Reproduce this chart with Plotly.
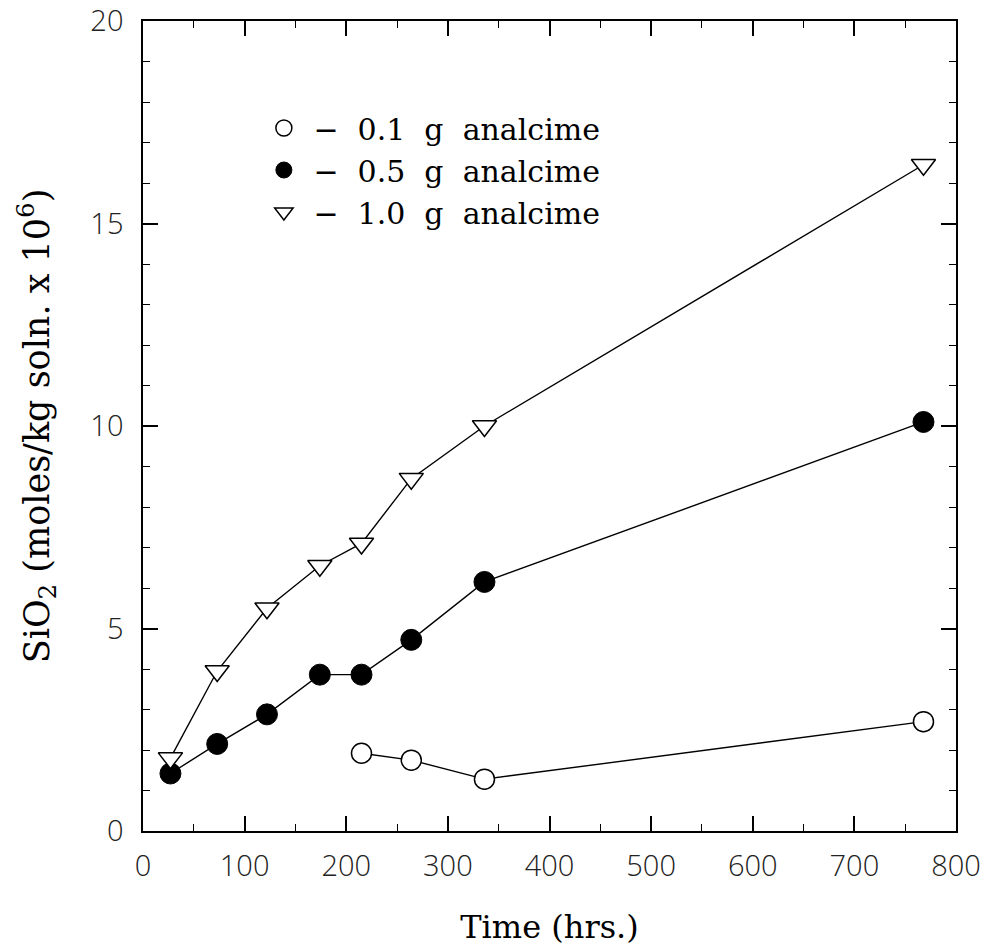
import plotly.graph_objects as go

# Data
time_01 = [215, 264, 336, 768]
sio2_01 = [1.92, 1.75, 1.28, 2.70]

time_05 = [27, 73, 122, 174, 215, 264, 336, 768]
sio2_05 = [1.42, 2.15, 2.88, 3.86, 3.86, 4.72, 6.15, 10.10]

time_10 = [27, 73, 122, 174, 215, 264, 336, 768]
sio2_10 = [1.80, 3.95, 5.50, 6.55, 7.10, 8.70, 10.00, 16.45]

labels = ["\u2212  0.1  g  analcime", "\u2212  0.5  g  analcime", "\u2212  1.0  g  analcime"]

serif = "DejaVu Serif"
sans = "Open Sans"

fig = go.Figure()

series = [
    (time_01, sio2_01, dict(symbol="circle", size=20, color="white", line=dict(color="black", width=1.5))),
    (time_05, sio2_05, dict(symbol="circle", size=21, color="black", line=dict(color="black", width=1))),
    (time_10, sio2_10, dict(symbol="triangle-down", size=21, color="white", line=dict(color="black", width=1.5))),
]

for (xs, ys, mk), name in zip(series, labels):
    fig.add_trace(go.Scatter(x=xs, y=ys, mode="lines+markers", marker=mk,
                             line=dict(color="black", width=1.4), showlegend=False,
                             cliponaxis=False))
for (xs, ys, mk), name in zip(series, labels):
    fig.add_trace(go.Scatter(x=[None], y=[None], mode="markers", marker=mk, name=name,
                             showlegend=True))

axis_common = dict(
    showline=True, linecolor="black", linewidth=1.5, mirror="allticks",
    ticks="inside", ticklen=15, tickwidth=1.5, tickcolor="black",
    showgrid=False, zeroline=False, automargin=False,
    tickfont=dict(family=sans, size=29, color="#222", weight=300),
)

fig.update_xaxes(range=[0, 800], tickvals=[0, 100, 200, 300, 400, 500, 600, 700, 800],
                 minor=dict(dtick=50, tick0=0, ticks="inside", ticklen=7, tickwidth=1.2, tickcolor="black"),
                 ticklabelstandoff=8,
                 title=dict(text="Time (hrs.)", font=dict(family=serif, size=32, color="black"), standoff=34),
                 **axis_common)
fig.update_yaxes(range=[0, 20], tickvals=[0, 5, 10, 15, 20],
                 minor=dict(dtick=1, tick0=0, ticks="inside", ticklen=7, tickwidth=1.2, tickcolor="black"),
                 ticklabelstandoff=12,
                 title=dict(text="SiO<sub>2</sub> (moles/kg soln. x 10<sup>6</sup>)",
                            font=dict(family=serif, size=35, color="black"), standoff=30),
                 **axis_common)

fig.update_layout(
    width=987, height=946,
    margin=dict(l=143, r=31, t=21, b=115),
    paper_bgcolor="white", plot_bgcolor="white",
    showlegend=True,
    legend=dict(x=0.137, y=0.9, xanchor="left", yanchor="top",
                bgcolor="rgba(0,0,0,0)", font=dict(family=serif, size=30, color="black"),
                itemsizing="trace", itemwidth=49, tracegroupgap=0),
)

fig.write_html("out.html")
